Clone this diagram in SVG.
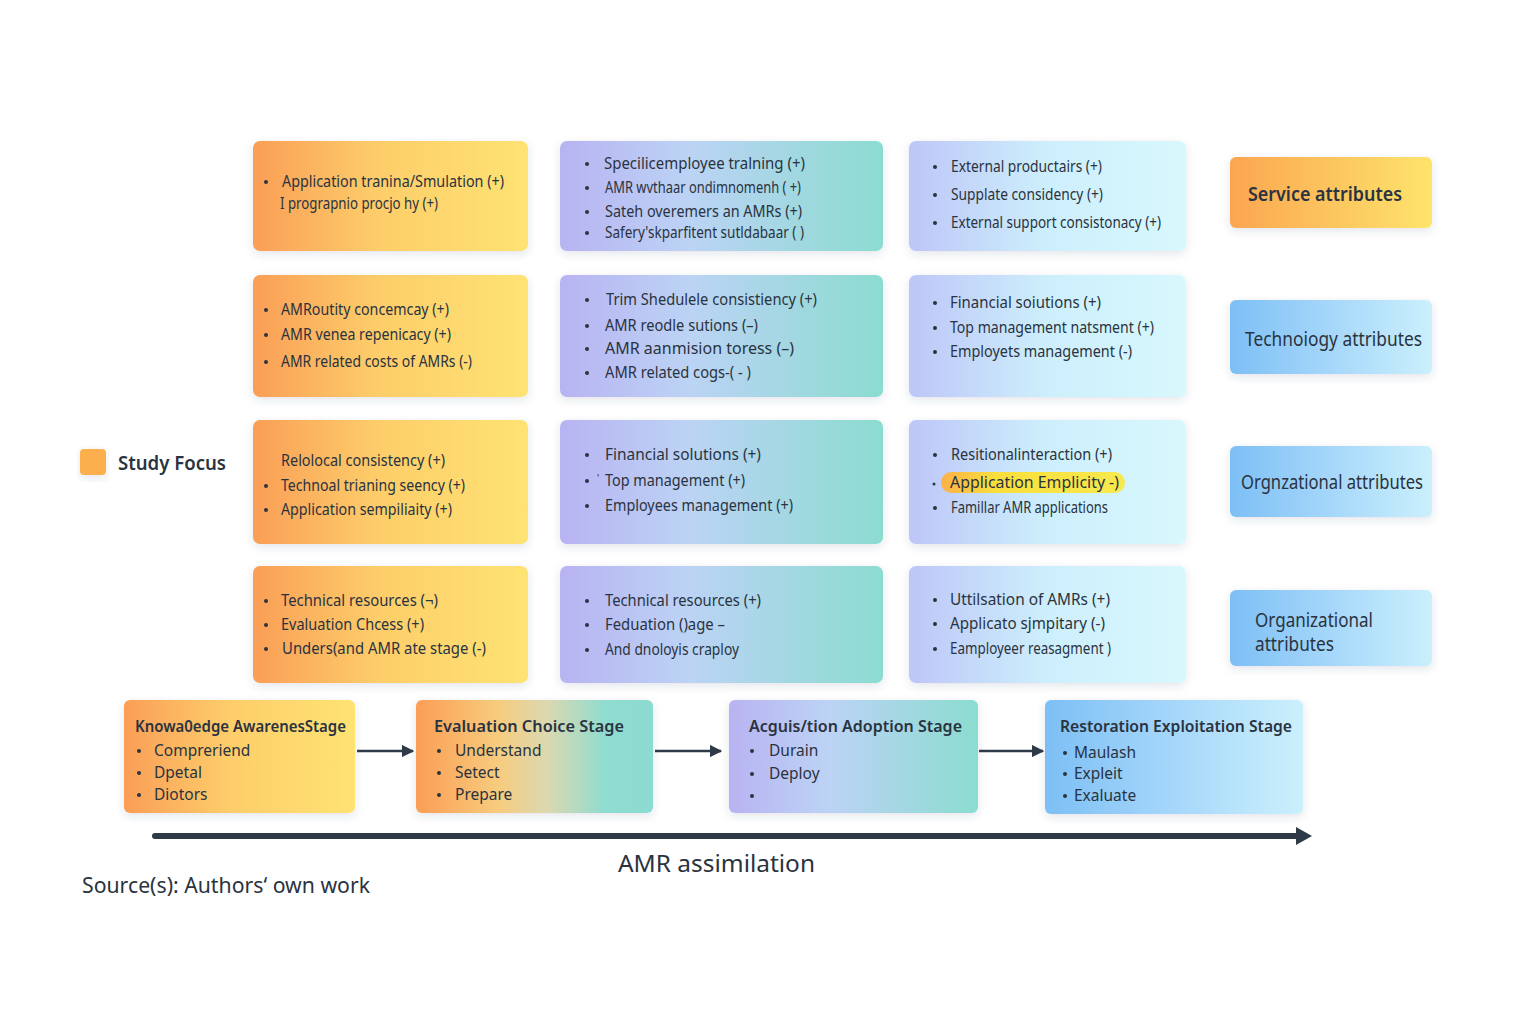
<svg xmlns="http://www.w3.org/2000/svg" width="1536" height="1024" viewBox="0 0 1536 1024">
<defs>
<linearGradient id="gOr" x1="0" y1="0" x2="1" y2="0"><stop offset="0" stop-color="#fa9e56"/><stop offset="0.45" stop-color="#fdcd6a"/><stop offset="1" stop-color="#fee373"/></linearGradient>
<linearGradient id="gPT" x1="0" y1="0" x2="1" y2="0"><stop offset="0" stop-color="#b8b3f2"/><stop offset="0.4" stop-color="#bcd3f5"/><stop offset="1" stop-color="#8bdcd0"/></linearGradient>
<linearGradient id="gPC" x1="0" y1="0" x2="1" y2="0"><stop offset="0" stop-color="#bdc6f8"/><stop offset="0.5" stop-color="#cdeffc"/><stop offset="1" stop-color="#d8f8fd"/></linearGradient>
<linearGradient id="gBl" x1="0" y1="0" x2="1" y2="0"><stop offset="0" stop-color="#7dbff5"/><stop offset="0.5" stop-color="#a6d7fa"/><stop offset="1" stop-color="#cbf0fc"/></linearGradient>
<linearGradient id="gS2" x1="0" y1="0" x2="1" y2="0"><stop offset="0" stop-color="#fb9e55"/><stop offset="0.35" stop-color="#f7cc7e"/><stop offset="0.55" stop-color="#dcd8b0"/><stop offset="0.8" stop-color="#8fdcd0"/><stop offset="1" stop-color="#8ddbd1"/></linearGradient>
<linearGradient id="gSvc" x1="0" y1="0" x2="1" y2="0"><stop offset="0" stop-color="#fba650"/><stop offset="1" stop-color="#fee46c"/></linearGradient>
<linearGradient id="gHl" x1="0" y1="0" x2="1" y2="0"><stop offset="0" stop-color="#fbb148"/><stop offset="0.3" stop-color="#f9df3c"/><stop offset="1" stop-color="#f7e94e"/></linearGradient>
<filter id="sh" x="-10%" y="-15%" width="120%" height="140%"><feDropShadow dx="0" dy="3" stdDeviation="4" flood-color="#3a4a60" flood-opacity="0.13"/></filter>
<marker id="ah" viewBox="0 0 10 10" refX="9" refY="5" markerWidth="5" markerHeight="5" orient="auto" markerUnits="strokeWidth"><path d="M0,0 L10,5 L0,10 z" fill="#2f3a48"/></marker>
<style>
.t{font-family:"Noto Sans","Open Sans","DejaVu Sans",sans-serif;font-size:16px;fill:#2a3340}
.s{font-family:"Noto Sans","Open Sans","DejaVu Sans",sans-serif;font-size:15.5px;fill:#2a3340}
.b{font-family:"Noto Sans","Open Sans","DejaVu Sans",sans-serif;font-weight:600;fill:#2a3340}
.l{font-family:"Noto Sans","Open Sans","DejaVu Sans",sans-serif;font-size:19px;fill:#2a3340}
.dot{fill:#2a3340}
.box{filter:url(#sh)}
.conn{stroke:#2f3a48;fill:none}
</style>
</defs>
<rect width="1536" height="1024" fill="#ffffff"/>

<g id="legend">
<rect x="80" y="449" width="26" height="26" rx="4" fill="#fbb04d" class="box"/>
<text x="118" y="470" class="b" font-size="19" textLength="108" lengthAdjust="spacingAndGlyphs">Study Focus</text>
</g>

<!-- Row 1 -->
<g id="r1c1">
<rect x="253" y="141" width="275" height="110" rx="7" fill="url(#gOr)" class="box"/>
<circle cx="266" cy="182" r="2" class="dot"/>
<text x="282" y="187" class="t" textLength="222" lengthAdjust="spacingAndGlyphs">Application tranina/Smulation (+)</text>
<text x="280" y="209" class="t" textLength="158" lengthAdjust="spacingAndGlyphs">I prograpnio procjo hy (+)</text>
</g>
<g id="r1c2">
<rect x="560" y="141" width="323" height="110" rx="7" fill="url(#gPT)" class="box"/>
<circle cx="587" cy="164" r="2" class="dot"/><text x="604" y="169" class="t" textLength="201" lengthAdjust="spacingAndGlyphs">Specilicemployee tralning (+)</text>
<circle cx="587" cy="188" r="2" class="dot"/><text x="605" y="193" class="t" textLength="196" lengthAdjust="spacingAndGlyphs">AMR wvthaar ondimnomenh ( +)</text>
<circle cx="587" cy="212" r="2" class="dot"/><text x="605" y="217" class="t" textLength="197" lengthAdjust="spacingAndGlyphs">Sateh overemers an AMRs (+)</text>
<circle cx="587" cy="233" r="2" class="dot"/><text x="605" y="238" class="t" textLength="199" lengthAdjust="spacingAndGlyphs">Safery'skparfitent sutldabaar ( )</text>
</g>
<g id="r1c3">
<rect x="909" y="141" width="277" height="110" rx="7" fill="url(#gPC)" class="box"/>
<circle cx="935" cy="167" r="2" class="dot"/><text x="951" y="172" class="t" textLength="151" lengthAdjust="spacingAndGlyphs">External productairs (+)</text>
<circle cx="935" cy="195" r="2" class="dot"/><text x="951" y="200" class="t" textLength="152" lengthAdjust="spacingAndGlyphs">Supplate considency (+)</text>
<circle cx="935" cy="223" r="2" class="dot"/><text x="951" y="228" class="t" textLength="210" lengthAdjust="spacingAndGlyphs">External support consistonacy (+)</text>
</g>
<g id="svc">
<rect x="1230" y="157" width="202" height="71" rx="6" fill="url(#gSvc)" class="box"/>
<text x="1248" y="201" class="b" font-size="19.5" textLength="154" lengthAdjust="spacingAndGlyphs">Service attributes</text>
</g>

<!-- Row 2 -->
<g id="r2c1">
<rect x="253" y="275" width="275" height="122" rx="7" fill="url(#gOr)" class="box"/>
<circle cx="266" cy="310" r="2" class="dot"/><text x="281" y="315" class="t" textLength="168" lengthAdjust="spacingAndGlyphs">AMRoutity concemcay (+)</text>
<circle cx="266" cy="335" r="2" class="dot"/><text x="281" y="340" class="t" textLength="170" lengthAdjust="spacingAndGlyphs">AMR venea repenicacy (+)</text>
<circle cx="266" cy="362" r="2" class="dot"/><text x="281" y="367" class="t" textLength="191" lengthAdjust="spacingAndGlyphs">AMR related costs of AMRs (-)</text>
</g>
<g id="r2c2">
<rect x="560" y="275" width="323" height="122" rx="7" fill="url(#gPT)" class="box"/>
<circle cx="587" cy="300" r="2" class="dot"/><text x="606" y="305" class="t" textLength="211" lengthAdjust="spacingAndGlyphs">Trim Shedulele consistiency (+)</text>
<circle cx="587" cy="326" r="2" class="dot"/><text x="605" y="331" class="t" textLength="153" lengthAdjust="spacingAndGlyphs">AMR reodle sutions (–)</text>
<circle cx="587" cy="349" r="2" class="dot"/><text x="605" y="354" class="t" textLength="189" lengthAdjust="spacingAndGlyphs">AMR aanmision toress (–)</text>
<circle cx="587" cy="373" r="2" class="dot"/><text x="605" y="378" class="t" textLength="146" lengthAdjust="spacingAndGlyphs">AMR related cogs-( - )</text>
</g>
<g id="r2c3">
<rect x="909" y="275" width="277" height="122" rx="7" fill="url(#gPC)" class="box"/>
<circle cx="935" cy="303" r="2" class="dot"/><text x="950" y="308" class="t" textLength="151" lengthAdjust="spacingAndGlyphs">Financial soiutions (+)</text>
<circle cx="935" cy="328" r="2" class="dot"/><text x="950" y="333" class="t" textLength="204" lengthAdjust="spacingAndGlyphs">Top management natsment (+)</text>
<circle cx="935" cy="352" r="2" class="dot"/><text x="950" y="357" class="t" textLength="182" lengthAdjust="spacingAndGlyphs">Employets management (-)</text>
</g>
<g id="tech">
<rect x="1230" y="300" width="202" height="74" rx="6" fill="url(#gBl)" class="box"/>
<text x="1245" y="346" class="l" textLength="177" lengthAdjust="spacingAndGlyphs">Technoiogy attributes</text>
</g>

<!-- Row 3 -->
<g id="r3c1">
<rect x="253" y="420" width="275" height="124" rx="7" fill="url(#gOr)" class="box"/>
<text x="281" y="466" class="t" textLength="164" lengthAdjust="spacingAndGlyphs">Relolocal consistency (+)</text>
<circle cx="266" cy="486" r="2" class="dot"/><text x="281" y="491" class="t" textLength="184" lengthAdjust="spacingAndGlyphs">Technoal trianing seency (+)</text>
<circle cx="266" cy="510" r="2" class="dot"/><text x="281" y="515" class="t" textLength="171" lengthAdjust="spacingAndGlyphs">Application sempiliaity (+)</text>
</g>
<g id="r3c2">
<rect x="560" y="420" width="323" height="124" rx="7" fill="url(#gPT)" class="box"/>
<circle cx="587" cy="455" r="2" class="dot"/><text x="605" y="460" class="t" textLength="156" lengthAdjust="spacingAndGlyphs">Financial solutions (+)</text>
<circle cx="587" cy="481" r="2" class="dot"/><text x="597" y="482" class="t" style="font-size:10px">'</text><text x="605" y="486" class="t" textLength="140" lengthAdjust="spacingAndGlyphs">Top management (+)</text>
<circle cx="587" cy="506" r="2" class="dot"/><text x="605" y="511" class="t" textLength="188" lengthAdjust="spacingAndGlyphs">Employees management (+)</text>
</g>
<g id="r3c3">
<rect x="909" y="420" width="277" height="124" rx="7" fill="url(#gPC)" class="box"/>
<circle cx="935" cy="455" r="2" class="dot"/><text x="951" y="460" class="t" textLength="161" lengthAdjust="spacingAndGlyphs">Resitionalinteraction (+)</text>
<rect x="941" y="472" width="184" height="21" rx="10.5" fill="url(#gHl)"/>
<circle cx="934" cy="484" r="1.5" class="dot"/><text x="950" y="488" class="t" style="font-size:16.5px" textLength="169" lengthAdjust="spacingAndGlyphs">Application Emplicity -)</text>
<circle cx="935" cy="508" r="2" class="dot"/><text x="951" y="513" class="t" textLength="157" lengthAdjust="spacingAndGlyphs">Famillar AMR applications</text>
</g>
<g id="orgz">
<rect x="1230" y="446" width="202" height="71" rx="6" fill="url(#gBl)" class="box"/>
<text x="1241" y="489" class="l" textLength="182" lengthAdjust="spacingAndGlyphs">Orgnzational attributes</text>
</g>

<!-- Row 4 -->
<g id="r4c1">
<rect x="253" y="566" width="275" height="117" rx="7" fill="url(#gOr)" class="box"/>
<circle cx="266" cy="601" r="2" class="dot"/><text x="281" y="606" class="t" textLength="157" lengthAdjust="spacingAndGlyphs">Technical resources (¬)</text>
<circle cx="266" cy="625" r="2" class="dot"/><text x="281" y="630" class="t" textLength="143" lengthAdjust="spacingAndGlyphs">Evaluation Chcess (+)</text>
<circle cx="266" cy="649" r="2" class="dot"/><text x="282" y="654" class="t" textLength="204" lengthAdjust="spacingAndGlyphs">Unders(and AMR ate stage (-)</text>
</g>
<g id="r4c2">
<rect x="560" y="566" width="323" height="117" rx="7" fill="url(#gPT)" class="box"/>
<circle cx="587" cy="601" r="2" class="dot"/><text x="605" y="606" class="t" textLength="156" lengthAdjust="spacingAndGlyphs">Technical resources (+)</text>
<circle cx="587" cy="625" r="2" class="dot"/><text x="605" y="630" class="t" textLength="120" lengthAdjust="spacingAndGlyphs">Feduation ()age  –</text>
<circle cx="587" cy="650" r="2" class="dot"/><text x="605" y="655" class="t" textLength="134" lengthAdjust="spacingAndGlyphs">And dnoloyis craploy</text>
</g>
<g id="r4c3">
<rect x="909" y="566" width="277" height="117" rx="7" fill="url(#gPC)" class="box"/>
<circle cx="935" cy="600" r="2" class="dot"/><text x="950" y="605" class="t" textLength="160" lengthAdjust="spacingAndGlyphs">Uttilsation of AMRs  (+)</text>
<circle cx="935" cy="624" r="2" class="dot"/><text x="950" y="629" class="t" textLength="155" lengthAdjust="spacingAndGlyphs">Applicato sjmpitary (-)</text>
<circle cx="935" cy="649" r="2" class="dot"/><text x="950" y="654" class="t" textLength="161" lengthAdjust="spacingAndGlyphs">Eamployeer reasagment  )</text>
</g>
<g id="org">
<rect x="1230" y="590" width="202" height="76" rx="6" fill="url(#gBl)" class="box"/>
<text x="1255" y="627" class="l" textLength="118" lengthAdjust="spacingAndGlyphs">Organizational</text>
<text x="1255" y="651" class="l" textLength="79" lengthAdjust="spacingAndGlyphs">attributes</text>
</g>

<!-- Stages -->
<g id="stage1">
<rect x="124" y="700" width="231" height="113" rx="6" fill="url(#gOr)" class="box"/>
<text x="135" y="732" class="b" font-size="15.5" textLength="211" lengthAdjust="spacingAndGlyphs">Knowa0edge AwarenesStage</text>
<circle cx="139" cy="751" r="2" class="dot"/><text x="154" y="756" class="s">Compreriend</text>
<circle cx="139" cy="773" r="2" class="dot"/><text x="154" y="778" class="s">Dpetal</text>
<circle cx="139" cy="795" r="2" class="dot"/><text x="154" y="800" class="s">Diotors</text>
</g>
<g id="stage2">
<rect x="416" y="700" width="237" height="113" rx="6" fill="url(#gS2)" class="box"/>
<text x="434" y="732" class="b" font-size="16" textLength="190" lengthAdjust="spacingAndGlyphs">Evaluation Choice Stage</text>
<circle cx="439" cy="751" r="2" class="dot"/><text x="455" y="756" class="s">Understand</text>
<circle cx="439" cy="773" r="2" class="dot"/><text x="455" y="778" class="s">Setect</text>
<circle cx="439" cy="795" r="2" class="dot"/><text x="455" y="800" class="s">Prepare</text>
</g>
<g id="stage3">
<rect x="729" y="700" width="249" height="113" rx="6" fill="url(#gPT)" class="box"/>
<text x="749" y="732" class="b" font-size="16" textLength="213" lengthAdjust="spacingAndGlyphs">Acguis/tion Adoption Stage</text>
<circle cx="752" cy="751" r="2" class="dot"/><text x="769" y="756" class="s">Durain</text>
<circle cx="752" cy="774" r="2" class="dot"/><text x="769" y="779" class="s">Deploy</text>
<circle cx="752" cy="796" r="2" class="dot"/>
</g>
<g id="stage4">
<rect x="1045" y="700" width="258" height="114" rx="6" fill="url(#gBl)" class="box"/>
<text x="1060" y="732" class="b" font-size="16" textLength="232" lengthAdjust="spacingAndGlyphs">Restoration Exploitation Stage</text>
<circle cx="1065" cy="753" r="2" class="dot"/><text x="1074" y="758" class="s">Maulash</text>
<circle cx="1065" cy="774" r="2" class="dot"/><text x="1074" y="779" class="s">Expleit</text>
<circle cx="1065" cy="796" r="2" class="dot"/><text x="1074" y="801" class="s">Exaluate</text>
</g>

<g id="connectors">
<line x1="357" y1="751" x2="413" y2="751" class="conn" stroke-width="2.5" marker-end="url(#ah)"/>
<line x1="655" y1="751" x2="721" y2="751" class="conn" stroke-width="2.5" marker-end="url(#ah)"/>
<line x1="979" y1="751" x2="1043" y2="751" class="conn" stroke-width="2.5" marker-end="url(#ah)"/>
<line x1="155" y1="836" x2="1298" y2="836" class="conn" stroke-width="6" stroke-linecap="round"/>
<path d="M1296,827 L1312,836 L1296,845 z" fill="#2f3a48"/>
</g>

<text x="618" y="872" class="l" style="font-size:24px" textLength="197" lengthAdjust="spacingAndGlyphs">AMR assimilation</text>
<text x="82" y="893" class="l" style="font-size:21px" textLength="288" lengthAdjust="spacingAndGlyphs">Source(s):  Authors‘ own work</text>
</svg>
